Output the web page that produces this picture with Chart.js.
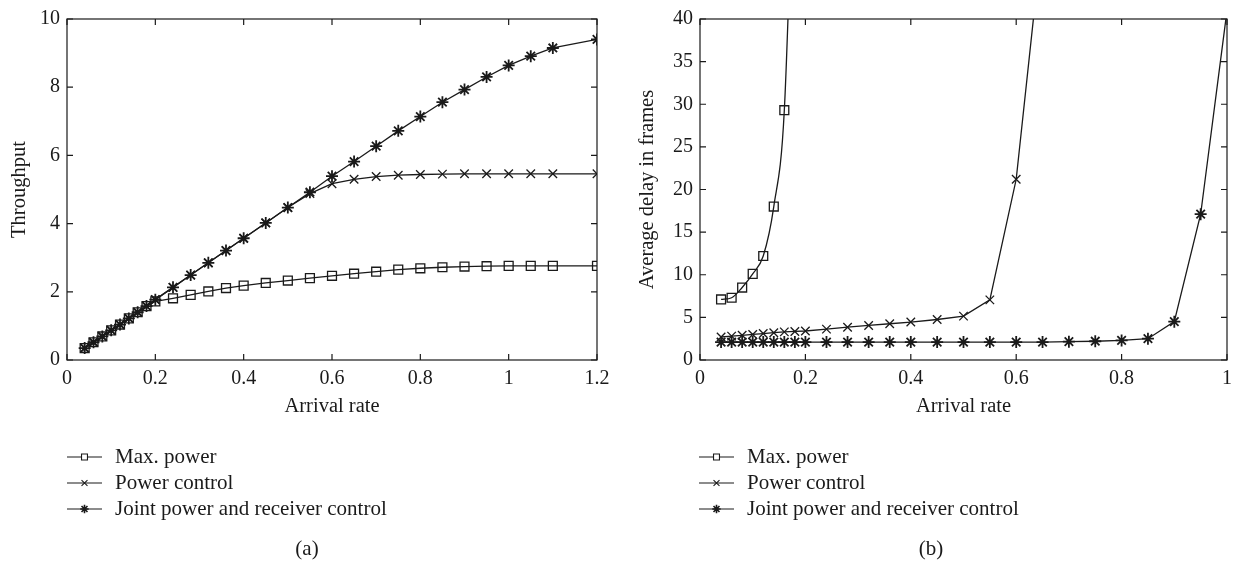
<!DOCTYPE html>
<html>
<head>
<meta charset="utf-8">
<script src="https://cdn.jsdelivr.net/npm/chart.js@4.4.0/dist/chart.umd.min.js"></script>
<style>
  body { margin: 0; background: #fff; }
  .panel { position: absolute; top: 0; height: 565px; }
</style>
</head>
<body>
<div class="panel" style="left:0;width:620px"><canvas id="chartA" width="620" height="565"></canvas></div>
<div class="panel" style="left:620px;width:619px"><canvas id="chartB" width="619" height="565"></canvas></div>
<script>
// (a) throughput vs arrival rate
const rateA = [0.04, 0.06, 0.08, 0.10, 0.12, 0.14, 0.16, 0.18, 0.20, 0.24, 0.28, 0.32, 0.36, 0.40, 0.45,
  0.50, 0.55, 0.60, 0.65, 0.70, 0.75, 0.80, 0.85, 0.90, 0.95, 1.00, 1.05, 1.10, 1.20];
const maxPowerA = [0.35, 0.52, 0.69, 0.87, 1.04, 1.22, 1.40, 1.58, 1.72, 1.81, 1.91, 2.01, 2.11, 2.18, 2.26,
  2.33, 2.40, 2.47, 2.53, 2.59, 2.65, 2.69, 2.72, 2.74, 2.75, 2.76, 2.76, 2.76, 2.76];
const powerCtrlA = [0.35, 0.52, 0.69, 0.87, 1.04, 1.22, 1.40, 1.58, 1.77, 2.13, 2.49, 2.85, 3.21, 3.57, 4.02,
  4.47, 4.88, 5.17, 5.30, 5.38, 5.42, 5.44, 5.45, 5.46, 5.46, 5.46, 5.46, 5.46, 5.46];
const jointA = [0.35, 0.52, 0.69, 0.87, 1.04, 1.22, 1.40, 1.58, 1.77, 2.13, 2.49, 2.85, 3.21, 3.57, 4.02,
  4.47, 4.92, 5.39, 5.82, 6.27, 6.72, 7.14, 7.56, 7.93, 8.30, 8.64, 8.91, 9.15, 9.40];

// (b) average delay vs arrival rate
const rateMaxB = [0.04, 0.06, 0.08, 0.10, 0.12, 0.14, 0.16, 0.18];
const delayMaxB = [7.1, 7.3, 8.5, 10.1, 12.2, 18.0, 29.3, 65];
const rateCtrlB = [0.04, 0.06, 0.08, 0.10, 0.12, 0.14, 0.16, 0.18, 0.20, 0.24, 0.28, 0.32, 0.36, 0.40, 0.45,
  0.50, 0.55, 0.60, 0.65];
const delayCtrlB = [2.7, 2.8, 2.9, 3.0, 3.1, 3.2, 3.3, 3.35, 3.4, 3.62, 3.85, 4.05, 4.25, 4.45, 4.75,
  5.15, 7.05, 21.2, 50];
const rateJointB = [0.04, 0.06, 0.08, 0.10, 0.12, 0.14, 0.16, 0.18, 0.20, 0.24, 0.28, 0.32, 0.36, 0.40, 0.45,
  0.50, 0.55, 0.60, 0.65, 0.70, 0.75, 0.80, 0.85, 0.90, 0.95, 1.00];
const delayJointB = [2.1, 2.1, 2.1, 2.1, 2.1, 2.1, 2.1, 2.1, 2.1, 2.1, 2.1, 2.1, 2.1, 2.1, 2.1,
  2.1, 2.1, 2.1, 2.1, 2.15, 2.2, 2.3, 2.5, 4.5, 17.1, 41];

const seriesNames = ['Max. power', 'Power control', 'Joint power and receiver control'];
const markers = ['rect', 'crossRot', 'star'];

const serif = "'Liberation Serif', 'DejaVu Serif', serif";
const ink = '#1a1a1a';

function pts(xs, ys) {
  return xs.map((x, i) => ({ x: x, y: ys[i] }));
}

function dataset(i, xs, ys, extra) {
  return Object.assign({
    label: seriesNames[i],
    data: pts(xs, ys),
    borderColor: ink,
    backgroundColor: 'transparent',
    borderWidth: 1.3,
    pointStyle: markers[i],
    pointRadius: i === 0 ? 6.3 : 6,
    pointBorderWidth: i === 2 ? 1.8 : 1.3,
    pointBorderColor: ink,
    pointBackgroundColor: 'transparent',
    tension: 0,
    clip: 0
  }, extra || {});
}

// box, inside ticks on all four sides, legend and caption
const framePlugin = {
  id: 'frame',
  afterDraw(chart, args, opts) {
    const ctx = chart.ctx;
    const a = chart.chartArea;
    const xs = chart.scales.x, ys = chart.scales.y;
    ctx.save();
    ctx.strokeStyle = ink;
    ctx.lineWidth = 1.2;
    ctx.strokeRect(a.left, a.top, a.right - a.left, a.bottom - a.top);
    ctx.beginPath();
    xs.ticks.forEach(t => {
      const px = xs.getPixelForValue(t.value);
      ctx.moveTo(px, a.bottom); ctx.lineTo(px, a.bottom - 6);
      ctx.moveTo(px, a.top); ctx.lineTo(px, a.top + 6);
    });
    ys.ticks.forEach(t => {
      const py = ys.getPixelForValue(t.value);
      ctx.moveTo(a.left, py); ctx.lineTo(a.left + 6, py);
      ctx.moveTo(a.right, py); ctx.lineTo(a.right - 6, py);
    });
    ctx.stroke();

    // legend
    const lx = a.left + opts.legendShift;
    chart.data.datasets.forEach((ds, i) => {
      const y = a.bottom + 97 + i * 26;
      ctx.strokeStyle = ink;
      ctx.lineWidth = 1.2;
      ctx.beginPath();
      ctx.moveTo(lx, y); ctx.lineTo(lx + 35, y);
      ctx.stroke();
      ctx.lineWidth = i === 2 ? 1.6 : 1.1;
      ctx.fillStyle = '#fff';
      Chart.helpers.drawPoint(ctx, { pointStyle: ds.pointStyle, radius: 4.2, rotation: 0, borderWidth: ctx.lineWidth }, lx + 17.5, y);
      ctx.fillStyle = ink;
      ctx.font = '21px ' + serif;
      ctx.textAlign = 'left';
      ctx.textBaseline = 'middle';
      ctx.fillText(ds.label, lx + 48, y);
    });

    ctx.font = '21px ' + serif;
    ctx.textAlign = 'center';
    ctx.fillText(opts.caption, opts.captionX, a.bottom + 189);
    ctx.restore();
  }
};

function tickText(v) {
  return String(Number(v.toFixed(2)));
}

function makeOptions(cfg) {
  return {
    responsive: false,
    animation: false,
    layout: { padding: { left: 0, right: cfg.padRight, top: 15, bottom: 145 } },
    plugins: {
      legend: { display: false },
      tooltip: { enabled: false },
      frame: { caption: cfg.caption, captionX: cfg.captionX, legendShift: cfg.legendShift }
    },
    scales: {
      x: {
        type: 'linear',
        min: 0,
        max: cfg.xMax,
        afterFit: s => { s.height = 60; },
        grid: { display: false, drawTicks: false },
        border: { display: false },
        ticks: { stepSize: 0.2, padding: 7, color: ink, font: { family: serif, size: 20 }, callback: tickText },
        title: { display: true, text: 'Arrival rate', color: ink, font: { family: serif, size: 20.5 }, padding: { top: 0, bottom: 1 } }
      },
      y: {
        min: 0,
        max: cfg.yMax,
        afterFit: s => { s.width = cfg.yWidth; },
        grid: { display: false, drawTicks: false },
        border: { display: false },
        ticks: { stepSize: cfg.yStep, padding: 7, color: ink, font: { family: serif, size: 20 }, callback: tickText },
        title: { display: true, text: cfg.yTitle, color: ink, font: { family: serif, size: 20.5 }, padding: { top: cfg.yTitlePad, bottom: 0 } }
      }
    }
  };
}

new Chart(document.getElementById('chartA'), {
  type: 'line',
  data: {
    datasets: [
      dataset(0, rateA, maxPowerA),
      dataset(1, rateA, powerCtrlA),
      dataset(2, rateA, jointA)
    ]
  },
  options: makeOptions({
    padRight: 23, xMax: 1.2, yMax: 10, yStep: 2, yWidth: 67,
    yTitle: 'Throughput', yTitlePad: 7.5, caption: '(a)', captionX: 307, legendShift: 0
  }),
  plugins: [framePlugin]
});

new Chart(document.getElementById('chartB'), {
  type: 'line',
  data: {
    datasets: [
      dataset(0, rateMaxB, delayMaxB, { cubicInterpolationMode: 'monotone' }),
      dataset(1, rateCtrlB, delayCtrlB),
      dataset(2, rateJointB, delayJointB)
    ]
  },
  options: makeOptions({
    padRight: 11, xMax: 1, yMax: 40, yStep: 5, yWidth: 80,
    yTitle: 'Average delay in frames', yTitlePad: 15.5, caption: '(b)', captionX: 311, legendShift: -1
  }),
  plugins: [framePlugin]
});
</script>
</body>
</html>
